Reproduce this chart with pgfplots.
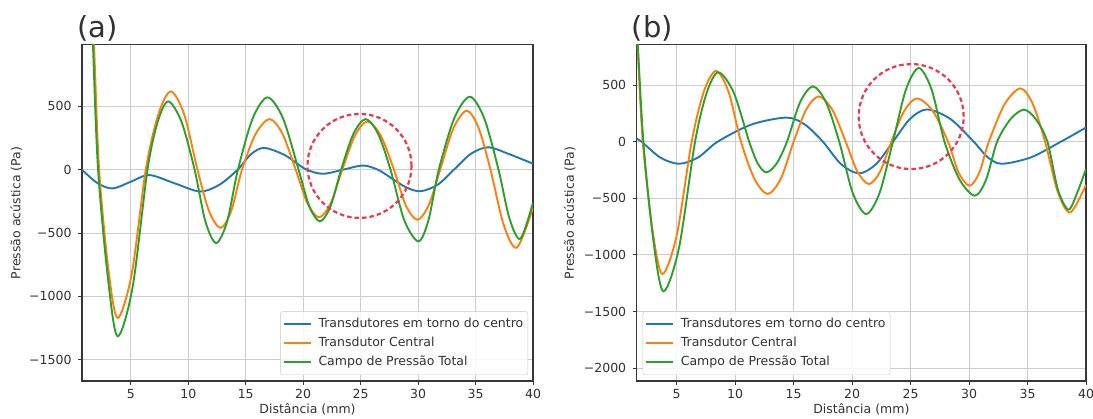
\documentclass[border=0pt]{standalone}
\usepackage{pgfplots}
\pgfplotsset{compat=1.18}
\usepackage{fontspec}
\setmainfont{DejaVu Sans}
\definecolor{tabblue}{RGB}{31,119,180}
\definecolor{taborange}{RGB}{255,127,14}
\definecolor{tabgreen}{RGB}{44,160,44}
\definecolor{gridc}{RGB}{205,205,205}
\definecolor{circc}{RGB}{240,55,75}
\definecolor{framec}{RGB}{55,55,55}
\definecolor{txtc}{RGB}{50,50,50}
\pgfplotsset{
  legend image code/.code={\draw[#1, line width=1.9pt] (0pt,0pt) -- (27pt,0pt);},
  myax/.style={
    scale only axis, height=336.3pt, anchor=south west,
    xmax=40, xtick={5,10,...,40}, xticklabels={5,10,15,20,25,30,35,40},
    grid=major, major grid style={draw=gridc, line width=1.0pt},
    axis line style={draw=framec, line width=1.1pt},
    tick align=outside, tick pos=left, major tick length=4pt,
    tick style={draw=framec, line width=0.9pt},
    ticklabel style={font=\fontsize{12.5}{14}\selectfont, text=txtc},
    yticklabel style={xshift=-3pt},
    xticklabel style={yshift=-1pt},
    label style={font=\fontsize{12.5}{14}\selectfont, text=txtc},
    xlabel={Distância (mm)}, ylabel={Pressão acústica (Pa)},
    xlabel style={at={(axis description cs:0.5,-0.098)}, anchor=base},
    legend cell align=left,
    legend style={font=\fontsize{12.5}{14}\selectfont, draw=black!22, rounded corners=2pt,
      fill=white, fill opacity=0.85, text opacity=1, text=txtc,
      inner xsep=2.5pt, inner ysep=4.5pt, row sep=2.9pt, column sep=4.5pt,
      nodes={inner xsep=2pt, inner ysep=2pt, text height=9.5pt, text depth=2.6pt}},
    title style={font=\fontsize{29}{31}\selectfont, text=txtc, at={(axis description cs:0,1)}, anchor=base west, xshift=-5pt, yshift=1pt, inner sep=0pt},
  }
}
\begin{document}
\begin{tikzpicture}
\path[use as bounding box] (0,0) rectangle (1093pt,419pt);
% ---------------- (a)
\begin{axis}[myax, at={(82pt,38pt)}, width=451pt,
  xmin=0.75, ymin=-1668, ymax=987,
  ytick={-1500,-1000,-500,0,500}, yticklabels={−1500,−1000,−500,0,500},
  ylabel style={at={(axis description cs:-0.146,0.5)}, anchor=center},
  title={(a)},
  legend style={at={(axis description cs:1,0)}, anchor=south east, xshift=-5pt, yshift=6pt}]
\addplot[tabblue, line width=1.9pt, smooth] coordinates {(0.75,0) (2.08,-105) (3.4,-148) (5.0,-95) (6.6,-42) (8.8,-107) (11.0,-172) (12.65,-122) (14.3,0) (15.45,122) (16.6,172) (18.4,115) (20.2,5) (21.7,-32) (23.45,0) (25.2,33) (26.5,0) (27.7,-68) (28.95,-139) (30.2,-170) (31.7,-119) (33.15,3) (34.6,126) (36.1,177) (37.9,124) (40,47)};
\addlegendentry{Transdutores em torno do centro}
\addplot[taborange, line width=1.9pt, smooth] coordinates {(0.75,3300) (1.3,2100) (1.8,980) (2.24,0) (3.04,-780) (3.84,-1170) (5.07,-827) (6.3,0) (7.39,437) (8.48,618) (9.64,437) (10.8,0) (11.8,-325) (12.81,-460) (13.74,-325) (14.67,0) (15.87,283) (17.08,400) (18.2,283) (19.35,0) (20.37,-266) (21.38,-376) (22.39,-266) (23.4,0) (24.5,269) (25.59,381) (26.75,269) (27.9,0) (28.92,-279) (29.94,-395) (30.93,-279) (31.92,0) (33.08,329) (34.24,466) (35.27,329) (36.3,0) (37.45,-435) (38.6,-615) (40,-300)};
\addlegendentry{Transdutor Central}
\addplot[tabgreen, line width=1.9pt, smooth] coordinates {(0.75,3500) (1.25,2300) (1.7,1000) (2.15,0) (3.0,-850) (3.84,-1315) (5.15,-930) (6.45,0) (7.35,381) (8.25,539) (9.4,381) (10.55,0) (11.49,-409) (12.43,-579) (13.38,-409) (14.32,0) (15.6,404) (16.9,571) (18.25,404) (19.6,0) (20.53,-288) (21.46,-408) (22.38,-288) (23.3,0) (24.37,283) (25.44,400) (26.52,283) (27.6,0) (28.8,-400) (30.03,-565) (30.9,-400) (31.8,0) (33.15,407) (34.5,576) (35.75,407) (37.0,0) (37.95,-385) (38.9,-545) (40,-260)};
\addlegendentry{Campo de Pressão Total}
\draw[circc, line width=2.2pt, dash pattern=on 4.5pt off 3pt] (axis cs:24.9,30) circle[radius=52pt];
\end{axis}
% ---------------- (b)
\begin{axis}[myax, at={(636.7pt,38pt)}, width=449.3pt,
  xmin=1.58, ymin=-2114, ymax=857,
  ytick={-2000,-1500,-1000,-500,0,500}, yticklabels={−2000,−1500,−1000,−500,0,500},
  ylabel style={at={(axis description cs:-0.149,0.5)}, anchor=center},
  title={(b)},
  legend style={at={(axis description cs:0,0)}, anchor=south west, xshift=6pt, yshift=6pt}]
\addplot[tabblue, line width=1.9pt, smooth] coordinates {(1.58,24) (2.0,0) (3.6,-140) (5.2,-195) (6.85,-138) (8.5,0) (11.4,152) (14.4,213) (15.95,152) (17.5,0) (19.05,-198) (20.6,-280) (22.05,-198) (23.5,0) (24.95,201) (26.4,285) (28.4,201) (30.4,0) (31.6,-138) (32.8,-195) (35.3,-138) (37.85,0) (40,125)};
\addlegendentry{Transdutores em torno do centro}
\addplot[taborange, line width=1.9pt, smooth] coordinates {(1.3,1400) (1.64,860) (2.1,0) (2.93,-780) (3.77,-1169) (5.0,-827) (6.28,0) (7.32,442) (8.36,625) (9.43,442) (10.5,0) (11.64,-327) (12.78,-462) (13.9,-327) (15.0,0) (16.07,283) (17.14,400) (18.3,283) (19.45,0) (20.45,-264) (21.44,-374) (22.4,-264) (23.35,0) (24.45,271) (25.55,383) (26.9,271) (28.2,0) (29.12,-275) (30.04,-389) (30.87,-275) (31.69,0) (33.05,333) (34.4,471) (35.45,333) (36.5,0) (37.58,-442) (38.65,-625) (40,-380)};
\addlegendentry{Transdutor Central}
\addplot[tabgreen, line width=1.9pt, smooth] coordinates {(1.3,1600) (1.58,1050) (2.15,0) (3.0,-870) (3.86,-1322) (5.2,-935) (6.57,0) (7.57,433) (8.56,613) (9.88,433) (11.2,0) (11.93,-192) (12.67,-271) (13.55,-192) (14.43,0) (15.54,346) (16.65,489) (17.78,346) (18.9,0) (20.05,-452) (21.21,-639) (22.35,-452) (23.49,0) (24.6,460) (25.7,651) (26.8,460) (27.9,0) (29.2,-337) (30.5,-477) (31.45,-337) (32.4,0) (33.55,200) (34.69,283) (35.7,200) (36.7,0) (37.6,-424) (38.5,-600) (39.25,-450) (40,-240)};
\addlegendentry{Campo de Pressão Total}
\draw[circc, line width=2.2pt, dash pattern=on 4.5pt off 3pt] (axis cs:25.05,222) circle[radius=52.5pt];
\end{axis}
\end{tikzpicture}
\end{document}
